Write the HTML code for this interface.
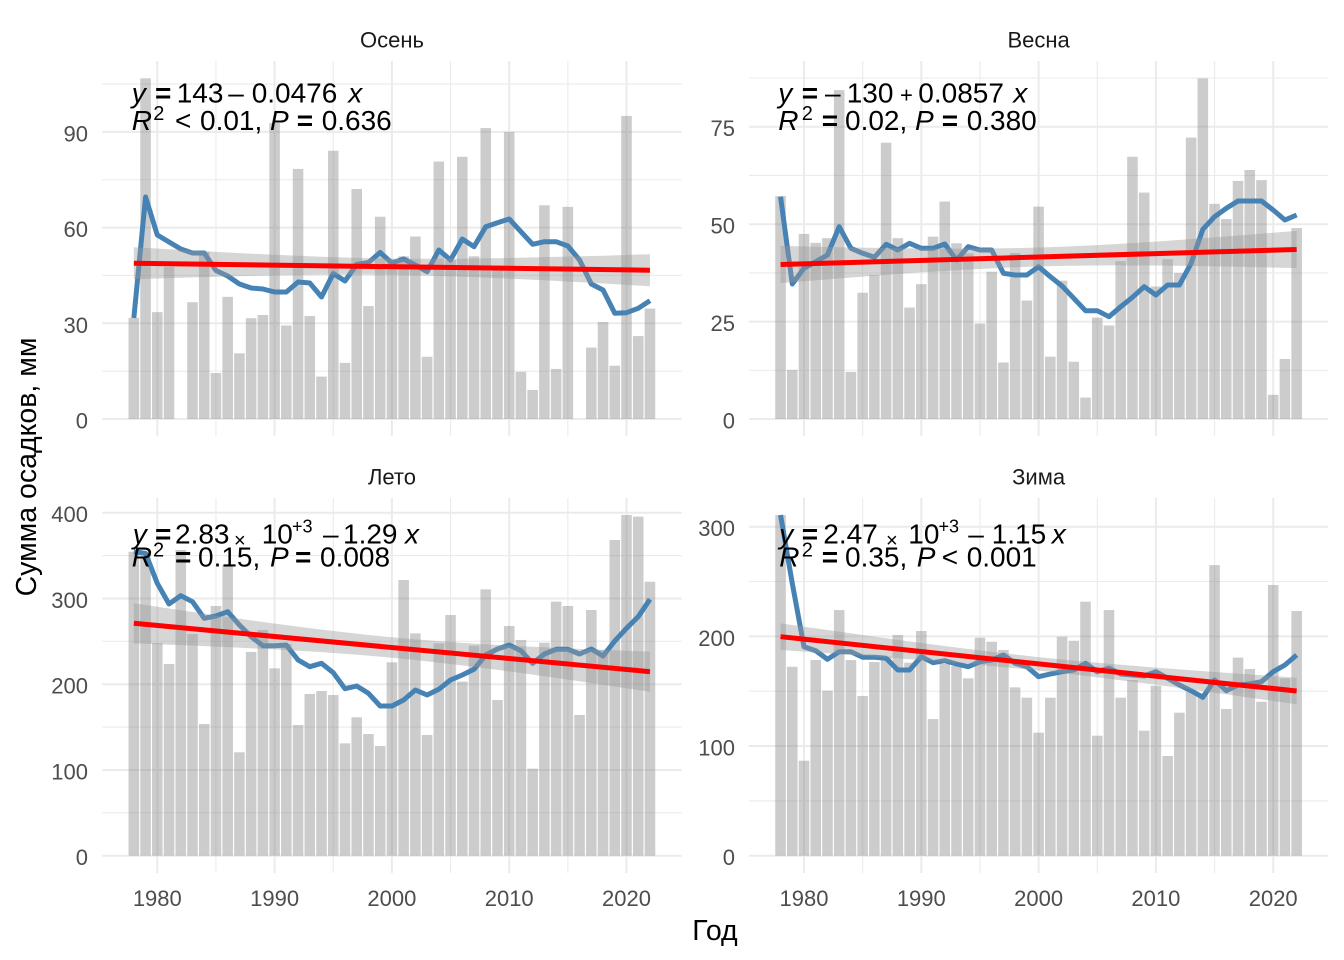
<!DOCTYPE html>
<html>
<head>
<meta charset="utf-8">
<style>
  html, body { margin: 0; padding: 0; background: #ffffff; }
  svg { display: block; }
  text { font-family: "Liberation Sans", "DejaVu Sans", sans-serif; }
  .tk { font-size: 22px; fill: #4d4d4d; }
  .st { font-size: 22px; fill: #1a1a1a; text-anchor: middle; }
  .ti { font-size: 28.5px; fill: #000000; text-anchor: middle; }
  .a { font-size: 28px; fill: #000000; }
  .gmaj { stroke: #ebebeb; stroke-width: 2; }
  .gmin { stroke: #ebebeb; stroke-width: 1.1; }
  .bars { fill: #7f7f7f; fill-opacity: 0.4; }
  .blue { fill: none; stroke: #4682B4; stroke-width: 5; stroke-linejoin: round; }
  .band { fill: #999999; fill-opacity: 0.4; stroke: none; }
  .red { stroke: #FF0000; stroke-width: 5; }
</style>
</head>
<body>
<svg width="1344" height="960" viewBox="0 0 1344 960" xmlns="http://www.w3.org/2000/svg">
<rect x="0" y="0" width="1344" height="960" fill="#ffffff"/>

<!-- GRIDLINES: Top-left -->
<g>
  <line class="gmin" x1="102.2" x2="681.6" y1="371.15" y2="371.15"/>
  <line class="gmin" x1="102.2" x2="681.6" y1="275.45" y2="275.45"/>
  <line class="gmin" x1="102.2" x2="681.6" y1="179.75" y2="179.75"/>
  <line class="gmin" x1="102.2" x2="681.6" y1="84.05" y2="84.05"/>
  <line class="gmin" x1="215.95" x2="215.95" y1="61" y2="436"/>
  <line class="gmin" x1="333.25" x2="333.25" y1="61" y2="436"/>
  <line class="gmin" x1="450.55" x2="450.55" y1="61" y2="436"/>
  <line class="gmin" x1="567.85" x2="567.85" y1="61" y2="436"/>
  <line class="gmaj" x1="102.2" x2="681.6" y1="419" y2="419"/>
  <line class="gmaj" x1="102.2" x2="681.6" y1="323.3" y2="323.3"/>
  <line class="gmaj" x1="102.2" x2="681.6" y1="227.6" y2="227.6"/>
  <line class="gmaj" x1="102.2" x2="681.6" y1="131.9" y2="131.9"/>
  <line class="gmaj" x1="157.3" x2="157.3" y1="61" y2="436"/>
  <line class="gmaj" x1="274.6" x2="274.6" y1="61" y2="436"/>
  <line class="gmaj" x1="391.9" x2="391.9" y1="61" y2="436"/>
  <line class="gmaj" x1="509.2" x2="509.2" y1="61" y2="436"/>
  <line class="gmaj" x1="626.5" x2="626.5" y1="61" y2="436"/>
</g>
<!-- GRIDLINES: Top-right -->
<g>
  <line class="gmin" x1="748.9" x2="1328.3" y1="370.3" y2="370.3"/>
  <line class="gmin" x1="748.9" x2="1328.3" y1="272.9" y2="272.9"/>
  <line class="gmin" x1="748.9" x2="1328.3" y1="175.4" y2="175.4"/>
  <line class="gmin" x1="748.9" x2="1328.3" y1="78" y2="78"/>
  <line class="gmin" x1="862.65" x2="862.65" y1="61" y2="436"/>
  <line class="gmin" x1="979.95" x2="979.95" y1="61" y2="436"/>
  <line class="gmin" x1="1097.25" x2="1097.25" y1="61" y2="436"/>
  <line class="gmin" x1="1214.55" x2="1214.55" y1="61" y2="436"/>
  <line class="gmaj" x1="748.9" x2="1328.3" y1="419" y2="419"/>
  <line class="gmaj" x1="748.9" x2="1328.3" y1="321.6" y2="321.6"/>
  <line class="gmaj" x1="748.9" x2="1328.3" y1="224.2" y2="224.2"/>
  <line class="gmaj" x1="748.9" x2="1328.3" y1="126.7" y2="126.7"/>
  <line class="gmaj" x1="804" x2="804" y1="61" y2="436"/>
  <line class="gmaj" x1="921.3" x2="921.3" y1="61" y2="436"/>
  <line class="gmaj" x1="1038.6" x2="1038.6" y1="61" y2="436"/>
  <line class="gmaj" x1="1155.9" x2="1155.9" y1="61" y2="436"/>
  <line class="gmaj" x1="1273.2" x2="1273.2" y1="61" y2="436"/>
</g>
<!-- GRIDLINES: Bottom-left -->
<g>
  <line class="gmin" x1="102.2" x2="681.6" y1="812.8" y2="812.8"/>
  <line class="gmin" x1="102.2" x2="681.6" y1="727.1" y2="727.1"/>
  <line class="gmin" x1="102.2" x2="681.6" y1="641.3" y2="641.3"/>
  <line class="gmin" x1="102.2" x2="681.6" y1="555.6" y2="555.6"/>
  <line class="gmin" x1="215.95" x2="215.95" y1="498" y2="873"/>
  <line class="gmin" x1="333.25" x2="333.25" y1="498" y2="873"/>
  <line class="gmin" x1="450.55" x2="450.55" y1="498" y2="873"/>
  <line class="gmin" x1="567.85" x2="567.85" y1="498" y2="873"/>
  <line class="gmaj" x1="102.2" x2="681.6" y1="855.7" y2="855.7"/>
  <line class="gmaj" x1="102.2" x2="681.6" y1="769.95" y2="769.95"/>
  <line class="gmaj" x1="102.2" x2="681.6" y1="684.2" y2="684.2"/>
  <line class="gmaj" x1="102.2" x2="681.6" y1="598.45" y2="598.45"/>
  <line class="gmaj" x1="102.2" x2="681.6" y1="512.7" y2="512.7"/>
  <line class="gmaj" x1="157.3" x2="157.3" y1="498" y2="873"/>
  <line class="gmaj" x1="274.6" x2="274.6" y1="498" y2="873"/>
  <line class="gmaj" x1="391.9" x2="391.9" y1="498" y2="873"/>
  <line class="gmaj" x1="509.2" x2="509.2" y1="498" y2="873"/>
  <line class="gmaj" x1="626.5" x2="626.5" y1="498" y2="873"/>
</g>
<!-- GRIDLINES: Bottom-right -->
<g>
  <line class="gmin" x1="748.9" x2="1328.3" y1="800.9" y2="800.9"/>
  <line class="gmin" x1="748.9" x2="1328.3" y1="691.2" y2="691.2"/>
  <line class="gmin" x1="748.9" x2="1328.3" y1="581.5" y2="581.5"/>
  <line class="gmin" x1="862.65" x2="862.65" y1="498" y2="873"/>
  <line class="gmin" x1="979.95" x2="979.95" y1="498" y2="873"/>
  <line class="gmin" x1="1097.25" x2="1097.25" y1="498" y2="873"/>
  <line class="gmin" x1="1214.55" x2="1214.55" y1="498" y2="873"/>
  <line class="gmaj" x1="748.9" x2="1328.3" y1="855.7" y2="855.7"/>
  <line class="gmaj" x1="748.9" x2="1328.3" y1="746" y2="746"/>
  <line class="gmaj" x1="748.9" x2="1328.3" y1="636.36" y2="636.36"/>
  <line class="gmaj" x1="748.9" x2="1328.3" y1="526.7" y2="526.7"/>
  <line class="gmaj" x1="804" x2="804" y1="498" y2="873"/>
  <line class="gmaj" x1="921.3" x2="921.3" y1="498" y2="873"/>
  <line class="gmaj" x1="1038.6" x2="1038.6" y1="498" y2="873"/>
  <line class="gmaj" x1="1155.9" x2="1155.9" y1="498" y2="873"/>
  <line class="gmaj" x1="1273.2" x2="1273.2" y1="498" y2="873"/>
</g>

<!-- BARS: Top-left -->
<g class="bars" transform="translate(133.84,419) scale(11.73,-3.19)">
  <rect x="-0.45" width="0.9" height="31.7"/>
  <rect x="0.55" width="0.9" height="106.8"/>
  <rect x="1.55" width="0.9" height="33.5"/>
  <rect x="2.55" width="0.9" height="47.7"/>
  <rect x="4.55" width="0.9" height="36.6"/>
  <rect x="5.55" width="0.9" height="52.4"/>
  <rect x="6.55" width="0.9" height="14.4"/>
  <rect x="7.55" width="0.9" height="38.3"/>
  <rect x="8.55" width="0.9" height="20.6"/>
  <rect x="9.55" width="0.9" height="31.6"/>
  <rect x="10.55" width="0.9" height="32.6"/>
  <rect x="11.55" width="0.9" height="92.8"/>
  <rect x="12.55" width="0.9" height="29.3"/>
  <rect x="13.55" width="0.9" height="78.4"/>
  <rect x="14.55" width="0.9" height="32.3"/>
  <rect x="15.55" width="0.9" height="13.3"/>
  <rect x="16.55" width="0.9" height="84.1"/>
  <rect x="17.55" width="0.9" height="17.6"/>
  <rect x="18.55" width="0.9" height="72.1"/>
  <rect x="19.55" width="0.9" height="35.4"/>
  <rect x="20.55" width="0.9" height="63.4"/>
  <rect x="21.55" width="0.9" height="50"/>
  <rect x="22.55" width="0.9" height="51"/>
  <rect x="23.55" width="0.9" height="57.2"/>
  <rect x="24.55" width="0.9" height="19.5"/>
  <rect x="25.55" width="0.9" height="80.7"/>
  <rect x="26.55" width="0.9" height="49.8"/>
  <rect x="27.55" width="0.9" height="82.2"/>
  <rect x="28.55" width="0.9" height="51"/>
  <rect x="29.55" width="0.9" height="91.2"/>
  <rect x="30.55" width="0.9" height="47"/>
  <rect x="31.55" width="0.9" height="90"/>
  <rect x="32.55" width="0.9" height="14.8"/>
  <rect x="33.55" width="0.9" height="9.1"/>
  <rect x="34.55" width="0.9" height="67"/>
  <rect x="35.55" width="0.9" height="15.7"/>
  <rect x="36.55" width="0.9" height="66.5"/>
  <rect x="38.55" width="0.9" height="22.4"/>
  <rect x="39.55" width="0.9" height="30.4"/>
  <rect x="40.55" width="0.9" height="16.7"/>
  <rect x="41.55" width="0.9" height="95"/>
  <rect x="42.55" width="0.9" height="26"/>
  <rect x="43.55" width="0.9" height="34.6"/>
</g>
<!-- BARS: Top-right -->
<g class="bars" transform="translate(780.54,419) scale(11.73,-3.897)">
  <rect x="-0.45" width="0.9" height="57.2"/>
  <rect x="0.55" width="0.9" height="12.6"/>
  <rect x="1.55" width="0.9" height="47.5"/>
  <rect x="2.55" width="0.9" height="45.2"/>
  <rect x="3.55" width="0.9" height="46.4"/>
  <rect x="4.55" width="0.9" height="84.4"/>
  <rect x="5.55" width="0.9" height="12.1"/>
  <rect x="6.55" width="0.9" height="32.4"/>
  <rect x="7.55" width="0.9" height="37"/>
  <rect x="8.55" width="0.9" height="70.9"/>
  <rect x="9.55" width="0.9" height="46.4"/>
  <rect x="10.55" width="0.9" height="28.6"/>
  <rect x="11.55" width="0.9" height="34.6"/>
  <rect x="12.55" width="0.9" height="46.8"/>
  <rect x="13.55" width="0.9" height="55.8"/>
  <rect x="14.55" width="0.9" height="45.1"/>
  <rect x="15.55" width="0.9" height="42.5"/>
  <rect x="16.55" width="0.9" height="24.5"/>
  <rect x="17.55" width="0.9" height="37.8"/>
  <rect x="18.55" width="0.9" height="14.5"/>
  <rect x="19.55" width="0.9" height="42.6"/>
  <rect x="20.55" width="0.9" height="30.4"/>
  <rect x="21.55" width="0.9" height="54.5"/>
  <rect x="22.55" width="0.9" height="16"/>
  <rect x="23.55" width="0.9" height="35.5"/>
  <rect x="24.55" width="0.9" height="14.7"/>
  <rect x="25.55" width="0.9" height="5.5"/>
  <rect x="26.55" width="0.9" height="26"/>
  <rect x="27.55" width="0.9" height="24"/>
  <rect x="28.55" width="0.9" height="40.5"/>
  <rect x="29.55" width="0.9" height="67.3"/>
  <rect x="30.55" width="0.9" height="58.1"/>
  <rect x="31.55" width="0.9" height="34"/>
  <rect x="32.55" width="0.9" height="41"/>
  <rect x="33.55" width="0.9" height="37.5"/>
  <rect x="34.55" width="0.9" height="72.2"/>
  <rect x="35.55" width="0.9" height="87.4"/>
  <rect x="36.55" width="0.9" height="55.2"/>
  <rect x="37.55" width="0.9" height="51.3"/>
  <rect x="38.55" width="0.9" height="61.1"/>
  <rect x="39.55" width="0.9" height="63.9"/>
  <rect x="40.55" width="0.9" height="61.3"/>
  <rect x="41.55" width="0.9" height="6.2"/>
  <rect x="42.55" width="0.9" height="15.4"/>
  <rect x="43.55" width="0.9" height="49"/>
</g>
<!-- BARS: Bottom-left -->
<g class="bars" transform="translate(133.84,855.7) scale(11.73,-0.8575)">
  <rect x="-0.45" width="0.9" height="354.5"/>
  <rect x="0.55" width="0.9" height="350"/>
  <rect x="1.55" width="0.9" height="248"/>
  <rect x="2.55" width="0.9" height="223.6"/>
  <rect x="3.55" width="0.9" height="356.5"/>
  <rect x="4.55" width="0.9" height="258.5"/>
  <rect x="5.55" width="0.9" height="153.6"/>
  <rect x="6.55" width="0.9" height="291.2"/>
  <rect x="7.55" width="0.9" height="339"/>
  <rect x="8.55" width="0.9" height="120.6"/>
  <rect x="9.55" width="0.9" height="237.6"/>
  <rect x="10.55" width="0.9" height="263.2"/>
  <rect x="11.55" width="0.9" height="218.5"/>
  <rect x="12.55" width="0.9" height="246.9"/>
  <rect x="13.55" width="0.9" height="152.4"/>
  <rect x="14.55" width="0.9" height="188.6"/>
  <rect x="15.55" width="0.9" height="192"/>
  <rect x="16.55" width="0.9" height="187.4"/>
  <rect x="17.55" width="0.9" height="131"/>
  <rect x="18.55" width="0.9" height="161.4"/>
  <rect x="19.55" width="0.9" height="141.9"/>
  <rect x="20.55" width="0.9" height="127.9"/>
  <rect x="21.55" width="0.9" height="225.5"/>
  <rect x="22.55" width="0.9" height="321.5"/>
  <rect x="23.55" width="0.9" height="259.3"/>
  <rect x="24.55" width="0.9" height="140.8"/>
  <rect x="25.55" width="0.9" height="247.7"/>
  <rect x="26.55" width="0.9" height="280.7"/>
  <rect x="27.55" width="0.9" height="203"/>
  <rect x="28.55" width="0.9" height="245"/>
  <rect x="29.55" width="0.9" height="310.6"/>
  <rect x="30.55" width="0.9" height="181.6"/>
  <rect x="31.55" width="0.9" height="267.9"/>
  <rect x="32.55" width="0.9" height="251.6"/>
  <rect x="33.55" width="0.9" height="101.5"/>
  <rect x="34.55" width="0.9" height="248.4"/>
  <rect x="35.55" width="0.9" height="296.3"/>
  <rect x="36.55" width="0.9" height="291.2"/>
  <rect x="37.55" width="0.9" height="164.1"/>
  <rect x="38.55" width="0.9" height="286.5"/>
  <rect x="39.55" width="0.9" height="240"/>
  <rect x="40.55" width="0.9" height="368.2"/>
  <rect x="41.55" width="0.9" height="397.3"/>
  <rect x="42.55" width="0.9" height="395.4"/>
  <rect x="43.55" width="0.9" height="319.5"/>
</g>
<!-- BARS: Bottom-right -->
<g class="bars" transform="translate(780.54,855.7) scale(11.73,-1.0967)">
  <rect x="-0.45" width="0.9" height="310.6"/>
  <rect x="0.55" width="0.9" height="172.3"/>
  <rect x="1.55" width="0.9" height="86.6"/>
  <rect x="2.55" width="0.9" height="178.4"/>
  <rect x="3.55" width="0.9" height="150.5"/>
  <rect x="4.55" width="0.9" height="224"/>
  <rect x="5.55" width="0.9" height="178.4"/>
  <rect x="6.55" width="0.9" height="145.6"/>
  <rect x="7.55" width="0.9" height="176.6"/>
  <rect x="8.55" width="0.9" height="181.5"/>
  <rect x="9.55" width="0.9" height="201.2"/>
  <rect x="10.55" width="0.9" height="176"/>
  <rect x="11.55" width="0.9" height="204.9"/>
  <rect x="12.55" width="0.9" height="124.6"/>
  <rect x="13.55" width="0.9" height="174.8"/>
  <rect x="14.55" width="0.9" height="173"/>
  <rect x="15.55" width="0.9" height="161.7"/>
  <rect x="16.55" width="0.9" height="198.8"/>
  <rect x="17.55" width="0.9" height="195.1"/>
  <rect x="18.55" width="0.9" height="187.6"/>
  <rect x="19.55" width="0.9" height="153.5"/>
  <rect x="20.55" width="0.9" height="144.1"/>
  <rect x="21.55" width="0.9" height="112.2"/>
  <rect x="22.55" width="0.9" height="144.1"/>
  <rect x="23.55" width="0.9" height="199.7"/>
  <rect x="24.55" width="0.9" height="196"/>
  <rect x="25.55" width="0.9" height="231.6"/>
  <rect x="26.55" width="0.9" height="109.4"/>
  <rect x="27.55" width="0.9" height="224"/>
  <rect x="28.55" width="0.9" height="144.1"/>
  <rect x="29.55" width="0.9" height="160.2"/>
  <rect x="30.55" width="0.9" height="114"/>
  <rect x="31.55" width="0.9" height="155"/>
  <rect x="32.55" width="0.9" height="90.9"/>
  <rect x="33.55" width="0.9" height="130.4"/>
  <rect x="34.55" width="0.9" height="149.5"/>
  <rect x="35.55" width="0.9" height="148"/>
  <rect x="36.55" width="0.9" height="265"/>
  <rect x="37.55" width="0.9" height="133.8"/>
  <rect x="38.55" width="0.9" height="180.6"/>
  <rect x="39.55" width="0.9" height="170.2"/>
  <rect x="40.55" width="0.9" height="140.4"/>
  <rect x="41.55" width="0.9" height="246.8"/>
  <rect x="42.55" width="0.9" height="161.7"/>
  <rect x="43.55" width="0.9" height="223.1"/>
</g>

<!-- BLUE LINES -->
<g transform="translate(133.84,0) scale(11.73,1)">
  <polyline class="blue" vector-effect="non-scaling-stroke" points="0,318 1,197 2,235 3,242 4,249 5,253 6,253 7,270.5 8,276 9,284 10,288 11,289 12,292 13,292 14,282 15,283 16,297 17,273.5 18,281 19,264.5 20,262.5 21,252.5 22,263 23,259 24,265 25,271.7 26,250 27,260 28,239 29,246.7 30,226.7 31,222.7 32,219 33,231.7 34,244.3 35,241.7 36,241.7 37,246 38,260 39,284 40,290 41,313.3 42,312.7 43,308.3 44,300.7"/>
  <polyline class="blue" vector-effect="non-scaling-stroke" points="0,551.7 1,553.3 2,583.3 3,604 4,595.7 5,601.7 6,618.3 7,616 8,611.7 9,625 10,636.7 11,645.7 12,645.7 13,645 14,660 15,666.7 16,663.3 17,672.7 18,688.7 19,686 20,693.3 21,706 22,706 23,700 24,690 25,695 26,689.3 27,680 28,675 29,669.3 30,655 31,649 32,645 33,650.7 34,663.3 35,654 36,649.3 37,649.3 38,654 39,649 40,656 41,641 42,628.3 43,616.7 44,599.3"/>
</g>
<g transform="translate(780.54,0) scale(11.73,1)">
  <polyline class="blue" vector-effect="non-scaling-stroke" points="0,196.7 1,284 2,268.3 3,261.7 4,255 5,226.7 6,248.3 7,253.3 8,257.3 9,244.3 10,250 11,243.3 12,248.3 13,248.3 14,244 15,260 16,246.7 17,250 18,250 19,273.3 20,275 21,275 22,266.7 23,276.7 24,286 25,298.3 26,310.7 27,310.7 28,316.7 29,306.7 30,297.3 31,286.7 32,295 33,285 34,285 35,263.3 36,229.3 37,216.7 38,208.3 39,201 40,201 41,201 42,210 43,220 44,215"/>
  <polyline class="blue" vector-effect="non-scaling-stroke" points="0,515 1,583.3 2,646.7 3,650.7 4,659.3 5,651.7 6,651.7 7,657.3 8,657.3 9,658.3 10,670 11,670 12,656.7 13,662.7 14,660.7 15,664 16,666.7 17,661.7 18,660 19,655 20,663.3 21,666.7 22,676.7 23,674 24,671.7 25,670 26,663.3 27,671.7 28,668.3 29,674 30,675 31,676 32,671.7 33,678.3 34,685 35,690.7 36,697.3 37,680 38,690.7 39,685 40,684 41,681.7 42,671.7 43,665 44,655"/>
</g>

<!-- CONFIDENCE BANDS -->
<g transform="translate(133.84,0) scale(11.73,1)">
  <polygon class="band" points="0,247.2 4,249.9 8,252.5 12,254.8 16,256.7 20,258.2 22,258.6 24,258.8 28,258.6 32,258.0 36,256.9 40,255.7 44,254.2 44,286.2 40,283.5 36,280.9 32,278.6 28,276.6 24,275.2 22,274.8 20,274.6 16,274.7 12,275.4 8,276.5 4,277.7 0,279.2"/>
  <polygon class="band" points="0,603.21 4,610.25 8,617.09 12,623.61 16,629.65 20,634.97 22,637.29 24,639.37 28,642.85 32,645.61 36,647.89 40,649.85 44,651.61 44,691.79 40,684.75 36,677.91 32,671.39 28,665.35 24,660.03 22,657.71 20,655.63 16,652.15 12,649.39 8,647.11 4,645.15 0,643.39"/>
</g>
<g transform="translate(780.54,0) scale(11.73,1)">
  <polygon class="band" points="0,245.85 4,246.94 8,247.83 12,248.44 16,248.61 20,248.09 22,247.52 24,246.73 28,244.51 32,241.62 36,238.29 40,234.66 44,230.85 44,268.15 40,267.06 36,266.17 32,265.56 28,265.39 24,265.91 22,266.48 20,267.27 16,269.49 12,272.38 8,275.71 4,279.34 0,283.15"/>
  <polygon class="band" points="0,623.36 4,630.05 8,636.6 12,642.95 16,648.97 20,654.52 22,657.07 24,659.46 28,663.78 32,667.63 36,671.15 40,674.47 44,677.66 44,704.34 40,697.65 36,691.09 32,684.75 28,678.72 24,673.18 22,670.63 20,668.24 16,663.91 12,660.07 8,656.54 4,653.23 0,650.04"/>
</g>

<!-- RED REGRESSION LINES -->
<line class="red" x1="133.84" y1="263.2" x2="649.96" y2="270.2"/>
<line class="red" x1="780.54" y1="264.5" x2="1296.66" y2="249.5"/>
<line class="red" x1="133.84" y1="623.3" x2="649.96" y2="671.7"/>
<line class="red" x1="780.54" y1="636.7" x2="1296.66" y2="691"/>

<!-- ANNOTATIONS -->
<text class="a" y="102.7"><tspan x="131.7" font-style="italic">y</tspan><tspan x="155" font-weight="bold">=</tspan><tspan x="176.7">143</tspan><tspan x="228.3">–</tspan><tspan x="251.7">0.0476</tspan><tspan x="348.3" font-style="italic">x</tspan></text>
<text class="a" y="130"><tspan x="131.7" font-style="italic">R</tspan><tspan x="153.3" y="120" font-size="20">2</tspan><tspan x="175" y="130">&lt;</tspan><tspan x="200">0.01,</tspan><tspan x="270" font-style="italic">P</tspan><tspan x="296.7" font-weight="bold">=</tspan><tspan x="321.7">0.636</tspan></text>

<text class="a" y="102.7"><tspan x="778.3" font-style="italic">y</tspan><tspan x="801.7" font-weight="bold">=</tspan><tspan x="825">–</tspan><tspan x="846.7">130</tspan><tspan x="900" font-size="22">+</tspan><tspan x="918.3">0.0857</tspan><tspan x="1013.3" font-style="italic">x</tspan></text>
<text class="a" y="130"><tspan x="778.3" font-style="italic">R</tspan><tspan x="801.7" y="120" font-size="20">2</tspan><tspan x="821.7" y="130" font-weight="bold">=</tspan><tspan x="845">0.02,</tspan><tspan x="915" font-style="italic">P</tspan><tspan x="941.7" font-weight="bold">=</tspan><tspan x="966.7">0.380</tspan></text>

<text class="a" y="543.3"><tspan x="132.7" font-style="italic">y</tspan><tspan x="155" font-weight="bold">=</tspan><tspan x="175">2.83</tspan><tspan x="234" y="547" font-size="20">×</tspan><tspan x="261.7" y="543.3">10</tspan><tspan x="292" y="532.5" font-size="18">+3</tspan><tspan x="323" y="543.3">–</tspan><tspan x="343">1.29</tspan><tspan x="405" font-style="italic">x</tspan></text>
<text class="a" y="566.7"><tspan x="131.7" font-style="italic">R</tspan><tspan x="153" y="556.7" font-size="20">2</tspan><tspan x="175" y="566.7" font-weight="bold">=</tspan><tspan x="198">0.15,</tspan><tspan x="270" font-style="italic">P</tspan><tspan x="295" font-weight="bold">=</tspan><tspan x="320">0.008</tspan></text>

<text class="a" y="543.3"><tspan x="779.3" font-style="italic">y</tspan><tspan x="801.7" font-weight="bold">=</tspan><tspan x="823.3">2.47</tspan><tspan x="886" y="547" font-size="20">×</tspan><tspan x="908.3" y="543.3">10</tspan><tspan x="938.5" y="532.5" font-size="18">+3</tspan><tspan x="968.3" y="543.3">–</tspan><tspan x="991.7">1.15</tspan><tspan x="1051.7" font-style="italic">x</tspan></text>
<text class="a" y="566.7"><tspan x="779.3" font-style="italic">R</tspan><tspan x="801.7" y="556.7" font-size="20">2</tspan><tspan x="821.7" y="566.7" font-weight="bold">=</tspan><tspan x="845">0.35,</tspan><tspan x="916.7" font-style="italic">P</tspan><tspan x="941.7">&lt;</tspan><tspan x="966.7">0.001</tspan></text>

<!-- STRIP TITLES -->
<text class="st" x="392" y="47.3">Осень</text>
<text class="st" x="1038.6" y="47.3">Весна</text>
<text class="st" x="392" y="484.3">Лето</text>
<text class="st" x="1038.6" y="484.3">Зима</text>

<!-- Y TICK LABELS -->
<g class="tk" text-anchor="end">
  <text x="88" y="428.5">0</text>
  <text x="88" y="332.8">30</text>
  <text x="88" y="237.1">60</text>
  <text x="88" y="141.4">90</text>
  <text x="735" y="428.5">0</text>
  <text x="735" y="331.1">25</text>
  <text x="735" y="233.7">50</text>
  <text x="735" y="136.2">75</text>
  <text x="88" y="865.2">0</text>
  <text x="88" y="779.45">100</text>
  <text x="88" y="693.7">200</text>
  <text x="88" y="607.95">300</text>
  <text x="88" y="522.2">400</text>
  <text x="735" y="865.2">0</text>
  <text x="735" y="755.5">100</text>
  <text x="735" y="645.86">200</text>
  <text x="735" y="536.2">300</text>
</g>

<!-- X TICK LABELS -->
<g class="tk" text-anchor="middle">
  <text x="157.3" y="906">1980</text>
  <text x="274.6" y="906">1990</text>
  <text x="391.9" y="906">2000</text>
  <text x="509.2" y="906">2010</text>
  <text x="626.5" y="906">2020</text>
  <text x="804" y="906">1980</text>
  <text x="921.3" y="906">1990</text>
  <text x="1038.6" y="906">2000</text>
  <text x="1155.9" y="906">2010</text>
  <text x="1273.2" y="906">2020</text>
</g>

<!-- AXIS TITLES -->
<text class="ti" x="715" y="940">Год</text>
<text class="ti" transform="translate(36,467) rotate(-90)" x="0" y="0">Сумма осадков, мм</text>
</svg>
</body>
</html>
